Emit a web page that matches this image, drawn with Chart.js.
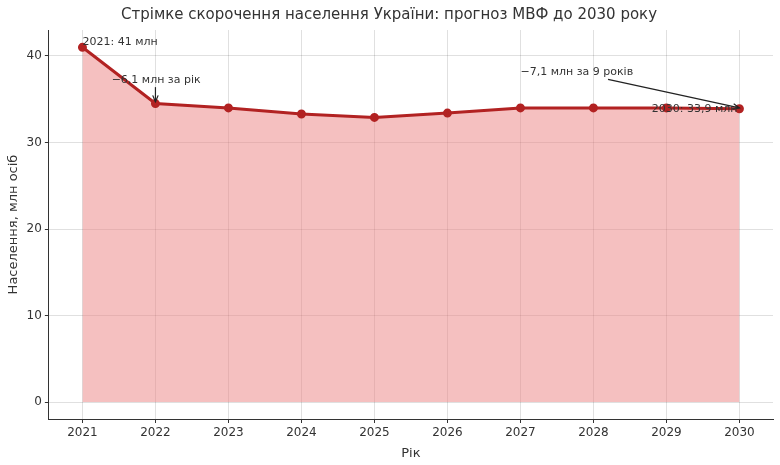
<!DOCTYPE html>
<html>
<head>
<meta charset="utf-8">
<script src="https://cdn.jsdelivr.net/npm/chart.js@4"></script>
<style>
  body { margin: 0; background: #fff; }
  #wrap { width: 780px; height: 465px; }
</style>
</head>
<body>
<div id="wrap"><canvas id="chart"></canvas></div>
<script>
// data
const years = [2021, 2022, 2023, 2024, 2025, 2026, 2027, 2028, 2029, 2030];
const population = [41.0, 34.5, 34.0, 33.3, 32.9, 33.4, 34.0, 34.0, 34.0, 33.9];
const yTicks = [0, 10, 20, 30, 40];

const FONT = "DejaVu Sans";
const RED = "#b22222";

// text notes + arrows, placed in data coordinates
const notes = [
  { text: "2021: 41 млн", x: 2021, y: 41.6, align: "left" },
  { text: "−6,1 млн за рік", x: 2021.4, y: 37.2, align: "left",
    arrow: { from: [2022, 36.4], to: [2022, 34.7] } },
  { text: "−7,1 млн за 9 років", x: 2027, y: 38.1, align: "left",
    arrow: { from: [2028.2, 37.3], to: [2030, 34.0] } },
  { text: "2030: 33,9 млн", x: 2028.8, y: 33.9, align: "left" },
];

const notePlugin = {
  id: "notes",
  afterDatasetsDraw(chart) {
    const ctx = chart.ctx;
    const xs = chart.scales.x, ys = chart.scales.y;
    ctx.save();
    ctx.font = "11px " + FONT;
    ctx.fillStyle = "#333";
    ctx.textBaseline = "middle";
    notes.forEach((n) => {
      ctx.textAlign = n.align;
      ctx.fillText(n.text, xs.getPixelForValue(n.x), ys.getPixelForValue(n.y));
      if (n.arrow) {
        const x1 = xs.getPixelForValue(n.arrow.from[0]), y1 = ys.getPixelForValue(n.arrow.from[1]);
        const x2 = xs.getPixelForValue(n.arrow.to[0]), y2 = ys.getPixelForValue(n.arrow.to[1]);
        ctx.strokeStyle = "#222";
        ctx.lineWidth = 1.2;
        ctx.beginPath(); ctx.moveTo(x1, y1); ctx.lineTo(x2, y2); ctx.stroke();
        const a = Math.atan2(y2 - y1, x2 - x1);
        ctx.beginPath();
        ctx.moveTo(x2 - 7 * Math.cos(a - 0.4), y2 - 7 * Math.sin(a - 0.4));
        ctx.lineTo(x2, y2);
        ctx.lineTo(x2 - 7 * Math.cos(a + 0.4), y2 - 7 * Math.sin(a + 0.4));
        ctx.stroke();
      }
    });
    ctx.restore();
  },
};

new Chart(document.getElementById("chart").getContext("2d"), {
  type: "line",
  data: {
    datasets: [
      {
        data: years.map((y, i) => ({ x: y, y: population[i] })),
        borderColor: RED,
        borderWidth: 3,
        pointRadius: 3,
        pointBackgroundColor: RED,
        pointBorderColor: RED,
        fill: "origin",
        backgroundColor: "rgba(235,130,130,0.5)",
        tension: 0,
      },
    ],
  },
  options: {
    responsive: true,
    maintainAspectRatio: false,
    animation: false,
    layout: { padding: { left: 4, right: 6, top: 4, bottom: 2 } },
    plugins: {
      legend: { display: false },
      tooltip: { enabled: false },
      title: {
        display: true,
        text: "Стрімке скорочення населення України: прогноз МВФ до 2030 року",
        font: { family: FONT, size: 15, weight: "normal" },
        color: "#333",
        padding: { top: 2, bottom: 6 },
      },
    },
    scales: {
      x: {
        type: "linear",
        min: 2020.54,
        max: 2030.46,
        afterBuildTicks: (s) => { s.ticks = years.map((v) => ({ value: v })); },
        ticks: { font: { family: FONT, size: 12 }, color: "#333", callback: (v) => String(v) },
        grid: { color: "rgba(0,0,0,0.12)", tickColor: "#333", tickLength: 4 },
        border: { color: "#333" },
        title: { display: true, text: "Рік", font: { family: FONT, size: 13 }, color: "#333", padding: 2 },
      },
      y: {
        min: -1.95,
        max: 43,
        afterBuildTicks: (s) => { s.ticks = yTicks.map((v) => ({ value: v })); },
        ticks: { font: { family: FONT, size: 12 }, color: "#333" },
        grid: { color: "rgba(0,0,0,0.12)", tickColor: "#333", tickLength: 4 },
        border: { color: "#333" },
        title: { display: true, text: "Населення, млн осіб", font: { family: FONT, size: 13 }, color: "#333", padding: 2 },
      },
    },
  },
  plugins: [notePlugin],
});
</script>
</body>
</html>
